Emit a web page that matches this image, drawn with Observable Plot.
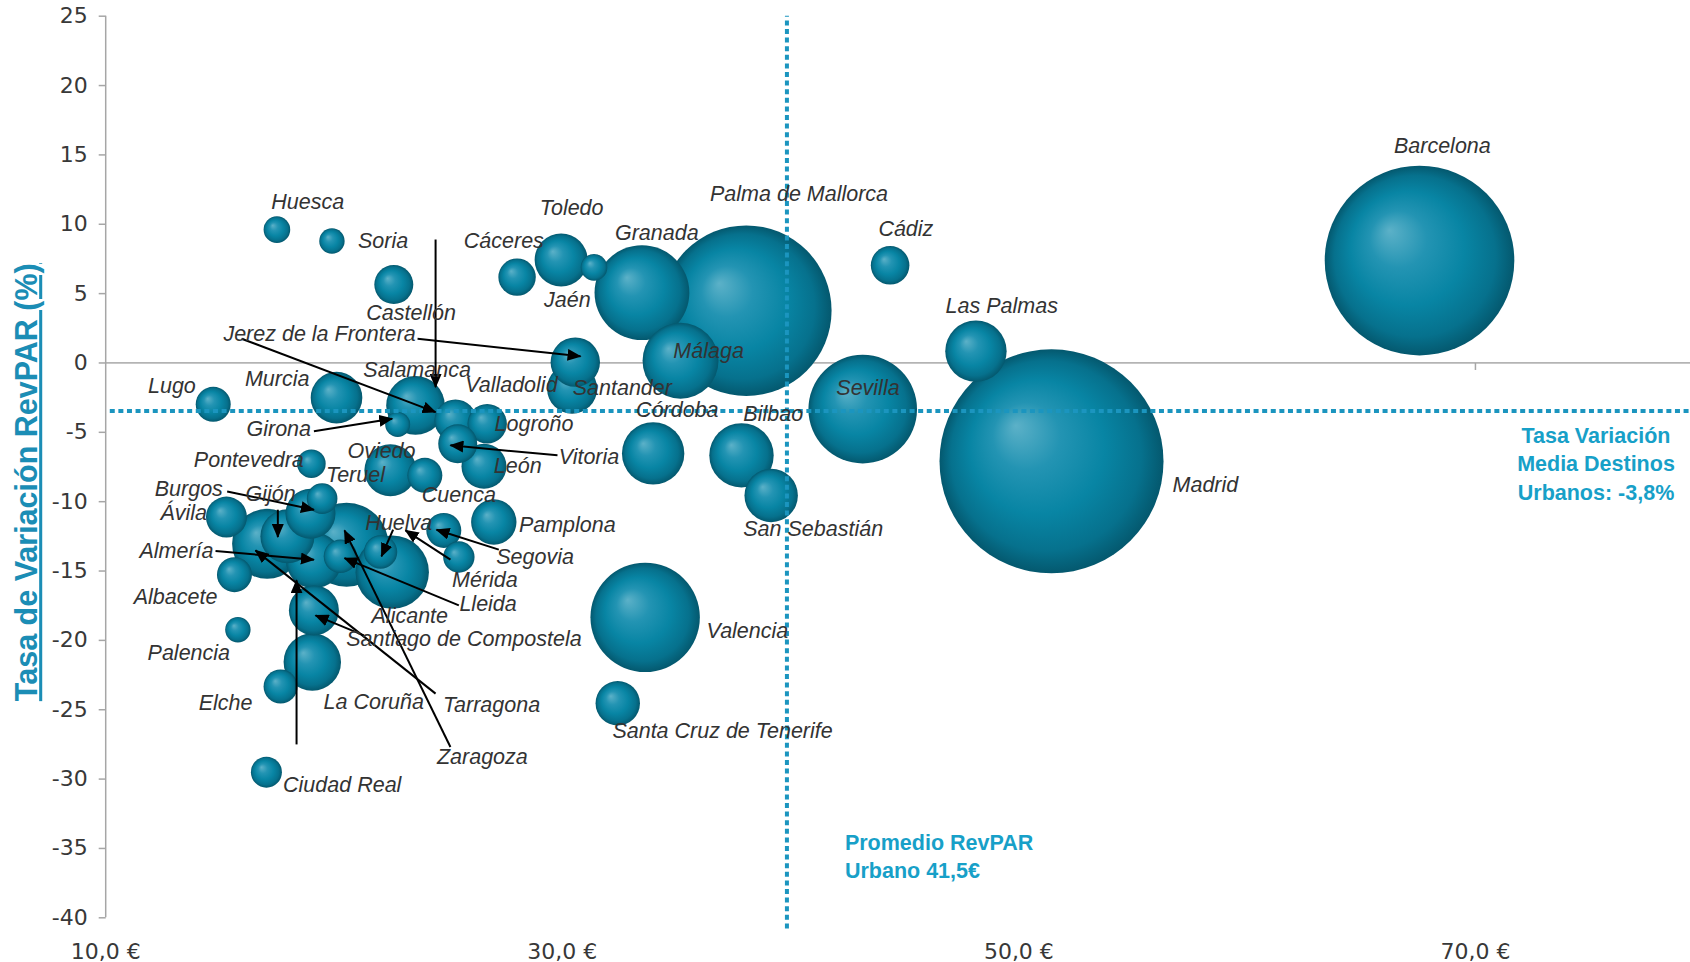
<!DOCTYPE html>
<html>
<head>
<meta charset="utf-8">
<script src="https://cdn.jsdelivr.net/npm/d3@7"></script>
<script src="https://cdn.jsdelivr.net/npm/@observablehq/plot@0.6"></script>
<style>
  html, body { margin: 0; padding: 0; background: #fff; }
  #chart svg { display: block; }
</style>
</head>
<body>
<div id="chart"></div>
<script>
// ---------------- DATA ----------------
const cities = ["Huesca","Soria","Castellón","Cáceres","Toledo","Jaén","Granada","Palma de Mallorca","Cádiz","Las Palmas",
  "Barcelona","Madrid","Sevilla","Málaga","Jerez de la Frontera","Santander","Córdoba","Bilbao","San Sebastián","Valencia",
  "Santa Cruz de Tenerife","Pamplona","Lugo","Murcia","Salamanca","Girona","Valladolid","Logroño","Vitoria","León",
  "Pontevedra","Oviedo","Cuenca","Teruel","Burgos","Ávila","Tarragona","Gijón","Almería","Zaragoza",
  "Lleida","Alicante","Huelva","Segovia","Mérida","Albacete","Santiago de Compostela","Palencia","La Coruña","Elche",
  "Ciudad Real"];
// RevPAR (€)
const revpar = [17.50,19.91,22.62,28.02,29.95,31.39,33.49,38.06,44.36,48.12,
  67.55,51.43,43.16,35.18,30.57,30.43,33.98,37.85,39.15,33.63,
  32.43,27.00,14.71,20.11,23.57,22.79,25.32,26.71,25.42,26.57,
  19.01,22.47,23.98,19.48,18.97,15.29,17.07,17.96,19.12,20.55,
  20.28,22.55,22.04,24.81,25.47,15.64,19.12,15.79,19.05,17.66,
  17.04];
// Tasa de variación RevPAR (%)
const variation = [9.61,8.79,5.65,6.19,7.43,6.89,5.07,3.77,7.04,0.85,
  7.38,-7.09,-3.33,0.16,0.06,-1.85,-6.52,-6.66,-9.55,-18.34,
  -24.53,-11.47,-2.98,-2.50,-3.06,-4.43,-4.14,-4.38,-5.82,-7.45,
  -7.26,-7.74,-8.10,-9.78,-10.87,-11.11,-13.04,-12.50,-14.23,-13.11,
  -13.94,-15.08,-13.63,-12.07,-13.99,-15.26,-17.84,-19.23,-21.56,-23.32,
  -29.50];
// bubble size (relative area)
const bubbleSize = [1.77,1.61,3.80,3.50,7.02,1.77,22.47,72.76,3.72,9.42,
  89.87,125.44,29.48,14.44,6.10,6.25,9.73,10.37,7.13,29.92,
  4.93,5.15,3.06,6.66,8.58,1.56,4.41,3.88,3.80,5.06,
  2.04,6.76,3.06,2.34,6.25,4.20,12.25,7.29,7.84,17.64,
  2.79,13.47,2.79,3.06,2.46,3.06,6.25,1.61,8.24,2.89,
  2.40];
// label anchor positions (data units)
const labelX = [18.85,22.15,23.38,27.44,30.41,30.22,34.14,40.37,45.05,49.25,
  68.55,58.17,43.39,36.41,19.37,32.63,35.04,39.24,40.99,38.11,
  37.02,30.22,12.90,17.51,23.64,17.58,27.77,28.76,31.17,28.05,
  16.27,22.08,25.47,20.94,13.64,13.42,26.90,17.22,13.10,26.50,
  26.75,23.32,22.84,28.81,26.61,13.06,25.69,13.64,21.74,15.25,
  20.36];
const labelY = [11.62,8.82,3.58,8.82,11.15,4.54,9.36,12.16,9.67,4.07,
  15.65,-8.82,-1.83,0.89,2.08,-1.83,-3.39,-3.70,-12.01,-19.32,
  -26.54,-11.70,-1.68,-1.13,-0.53,-4.74,-1.60,-4.40,-6.81,-7.43,
  -6.97,-6.35,-9.55,-8.10,-9.06,-10.82,-24.65,-9.42,-13.56,-28.41,
  -17.35,-18.25,-11.54,-14.03,-15.62,-16.88,-19.94,-20.92,-24.45,-24.49,
  -30.45];
// leader arrows (from label to bubble, data units)
const arrowX1 = [24.45,23.66,15.95,19.12,29.79,15.32,17.54,14.81,24.45,25.10,25.47,22.59,25.10,27.22,21.31,18.36];
const arrowY1 = [8.90,1.75,1.75,-4.93,-6.66,-9.26,-10.58,-13.56,-23.84,-27.69,-17.48,-12.02,-14.18,-13.46,-19.64,-27.50];
const arrowX2 = [24.45,30.80,24.45,22.55,25.10,19.12,17.54,19.12,16.56,20.46,20.46,22.08,23.13,24.49,19.19,18.36];
const arrowY2 = [-1.74,0.48,-3.54,-4.02,-5.94,-10.58,-12.55,-14.18,-13.51,-12.07,-14.07,-13.94,-12.07,-12.02,-18.20,-15.67];

// reference lines (as drawn)
const avgRevpar = 39.84;
const avgVariation = -3.47;

// axes
const yTicks = [25,20,15,10,5,0,-5,-10,-15,-20,-25,-30,-35,-40];
const xTicks = [10,30,50,70];
const xTickLabels = ["10,0 €","30,0 €","50,0 €","70,0 €"];
const yTitle = "Tasa de Variación RevPAR (%)";

// annotations
const noteText = ["Promedio RevPAR\nUrbano 41,5€", "Tasa Variación\nMedia Destinos\nUrbanos: -3,8%"];
const noteX = [42.38, 75.28];
const noteY = [-35.50, -7.16];

// ---------------- CHART ----------------
const W = 1690, H = 962;
const xDomain = [10, 79.42];
const idx = d3.range(cities.length).sort((a, b) => bubbleSize[b] - bubbleSize[a]);
const arrowIdx = d3.range(arrowX1.length);

const leftTick = { draw(ctx) { ctx.moveTo(-7, 0); ctx.lineTo(0, 0); } };
const downTick = { draw(ctx) { ctx.moveTo(0, 0); ctx.lineTo(0, 7); } };

const labelFont = "'Liberation Sans', Arial, Helvetica, sans-serif";
const tickFont = "'DejaVu Sans', Verdana, sans-serif";
const teal = "#17a0c8";

const plot = Plot.plot({
  width: W,
  height: H,
  marginLeft: 105.2,
  marginRight: 0,
  marginTop: 15.7,
  marginBottom: 44.7,
  x: { domain: xDomain, axis: null },
  y: { domain: [-40, 25], axis: null },
  r: { type: "sqrt", domain: [0, 100], range: [0, 100] },
  style: { background: "white", overflow: "visible" },
  marks: [
    // zero line and its ticks
    Plot.ruleY([0], { x1: 10, x2: xDomain[1], stroke: "#b4b4b4", strokeWidth: 1.8 }),
    Plot.dot(xTicks.slice(1), { x: d => d, y: 0, symbol: downTick, fill: "none", stroke: "#a6a6a6", strokeWidth: 1.5 }),
    // y axis line, ticks, labels
    Plot.ruleX([10], { y1: -40, y2: 25, stroke: "#a6a6a6", strokeWidth: 1.5 }),
    Plot.dot(yTicks, { x: 10, y: d => d, symbol: leftTick, fill: "none", stroke: "#a6a6a6", strokeWidth: 1.5 }),
    Plot.text(yTicks, { x: 10, y: d => d, text: d => String(d), dx: -18, textAnchor: "end",
      fontFamily: tickFont, fontSize: 22, fill: "#383838" }),
    // x tick labels
    Plot.text(xTicks, { x: d => d, y: -40, dy: 34, text: (d, i) => xTickLabels[i],
      fontFamily: tickFont, fontSize: 22, fill: "#383838" }),
    // y axis title
    Plot.text([yTitle], { frameAnchor: "left", textAnchor: "middle", dx: -78.3, dy: 15.2, rotate: -90,
      fontFamily: labelFont, fontSize: 30.5, fontWeight: "bold", fill: "#1b8db5" }),
    // bubbles
    Plot.dot(idx, { x: i => revpar[i], y: i => variation[i], r: i => bubbleSize[i],
      fill: "url(#bubbleGrad)", stroke: "none", sort: null }),
    // average lines
    Plot.ruleY([avgVariation], { x1: 10.2, x2: xDomain[1], stroke: "#1b95bf", strokeWidth: 4, strokeDasharray: "5,3.6" }),
    Plot.ruleX([avgRevpar], { y1: -40.8, y2: 25, stroke: "#1b95bf", strokeWidth: 4, strokeDasharray: "5,3.6" }),
    // leader arrows
    Plot.link(arrowIdx, { x1: i => arrowX1[i], y1: i => arrowY1[i], x2: i => arrowX2[i], y2: i => arrowY2[i],
      stroke: "#000", strokeWidth: 2 }),
    // city labels
    Plot.text(idx, { x: i => labelX[i], y: i => labelY[i], text: i => cities[i],
      fontFamily: labelFont, fontStyle: "italic", fontSize: 21.5, fill: "#333" }),
    // annotations
    Plot.text([0], { x: i => noteX[i], y: i => noteY[i], text: i => noteText[i], textAnchor: "start", lineHeight: 1.3,
      fontFamily: labelFont, fontWeight: "bold", fontSize: 21.5, fill: teal }),
    Plot.text([1], { x: i => noteX[i], y: i => noteY[i], text: i => noteText[i], textAnchor: "middle", lineHeight: 1.316,
      fontFamily: labelFont, fontWeight: "bold", fontSize: 21.5, fill: teal })
  ]
});

document.getElementById("chart").append(plot);
const svgEl = plot.tagName.toLowerCase() === "svg" ? plot : plot.querySelector("svg");
const svg = d3.select(svgEl);
const defs = svg.insert("defs", ":first-child");
const grad = defs.append("radialGradient").attr("id", "bubbleGrad")
  .attr("cx", "50%").attr("cy", "50%").attr("r", "50%").attr("fx", "34%").attr("fy", "34%");
[[0, "#5cb1c8"], [0.3, "#2394b3"], [0.6, "#0885a4"], [0.85, "#06718d"], [1, "#04586e"]]
  .forEach(([o, c]) => grad.append("stop").attr("offset", o).attr("stop-color", c));
const marker = defs.append("marker").attr("id", "arrowHead")
  .attr("viewBox", "0 0 14 12").attr("refX", 13).attr("refY", 6)
  .attr("markerWidth", 14).attr("markerHeight", 12)
  .attr("markerUnits", "userSpaceOnUse").attr("orient", "auto");
marker.append("path").attr("d", "M0,0L14,6L0,12Z").attr("fill", "#000");
svg.selectAll('g[aria-label="link"] path').attr("marker-end", "url(#arrowHead)");
svg.selectAll("text").filter(function () { return this.textContent === yTitle; })
  .style("text-decoration", "underline");
</script>
</body>
</html>
